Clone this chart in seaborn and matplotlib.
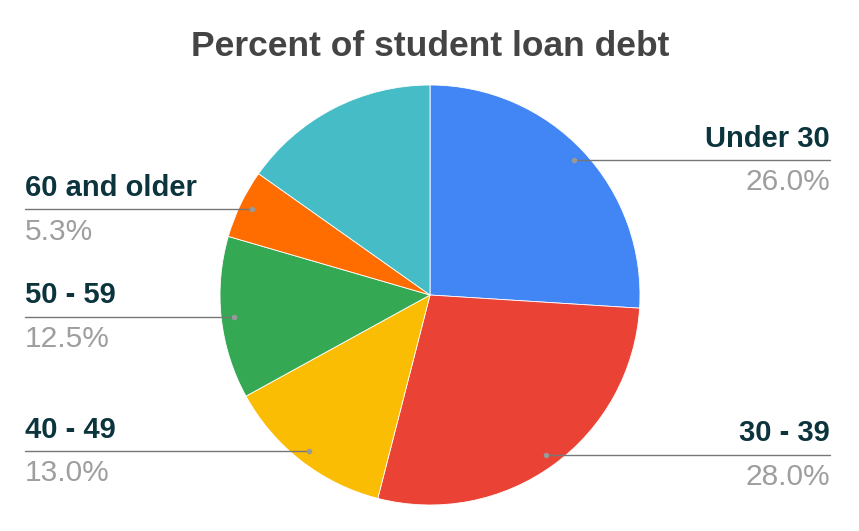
import numpy as np
import matplotlib
matplotlib.use("Agg")
import matplotlib.pyplot as plt
import seaborn as sns

# slice data, clockwise from 12 o'clock
groups = ["Under 30", "30 - 39", "40 - 49", "50 - 59", "60 and older", ""]
shares = [26.0, 28.0, 13.0, 12.5, 5.3, 15.2]
colors = ["#4285f4", "#ea4335", "#fbbc04", "#34a853", "#ff6d01", "#46bdc6"]

sns.set_theme(style="white")
plt.rcParams["font.family"] = ["Liberation Sans", "DejaVu Sans"]

fig = plt.figure(figsize=(8.59, 5.31), dpi=100)
W, H = 859, 531
cx, cy, R = 430, 295, 210
ax = fig.add_axes([(cx - R) / W, (H - cy - R) / H, 2 * R / W, 2 * R / H])

wedges, _ = ax.pie(shares, colors=colors, startangle=90, counterclock=False,
                   radius=1, wedgeprops=dict(linewidth=0.6, edgecolor="white"))
ax.set_xlim(-1, 1)
ax.set_ylim(-1, 1)
ax.set_aspect("equal")
ax.axis("off")

left_x = (25 - cx) / R
right_x = (830 - cx) / R
for w, name, val in zip(wedges, groups, shares):
    if not name:
        continue
    mid = np.deg2rad((w.theta1 + w.theta2) / 2)
    px, py = 0.94 * np.cos(mid), 0.94 * np.sin(mid)
    if px > 0:
        ex, ha = right_x, "right"
    else:
        ex, ha = left_x, "left"
    ax.plot([px, ex], [py, py], color="#777777", lw=1, clip_on=False, zorder=3)
    ax.plot(px, py, "o", ms=3, color="#999999", clip_on=False, zorder=4)
    ax.text(ex, py + 0.035, name, ha=ha, va="bottom", fontsize=21,
            fontweight="bold", color="#0c343d", clip_on=False)
    ax.text(ex, py - 0.04, f"{val:.1f}%", ha=ha, va="top", fontsize=21.5,
            color="#9e9e9e", clip_on=False)

fig.text(cx / W, 1 - 47 / H, "Percent of student loan debt", ha="center",
         va="center", fontsize=25.5, fontweight="bold", color="#444444")

fig.savefig("out.png", dpi=100, facecolor="white")
